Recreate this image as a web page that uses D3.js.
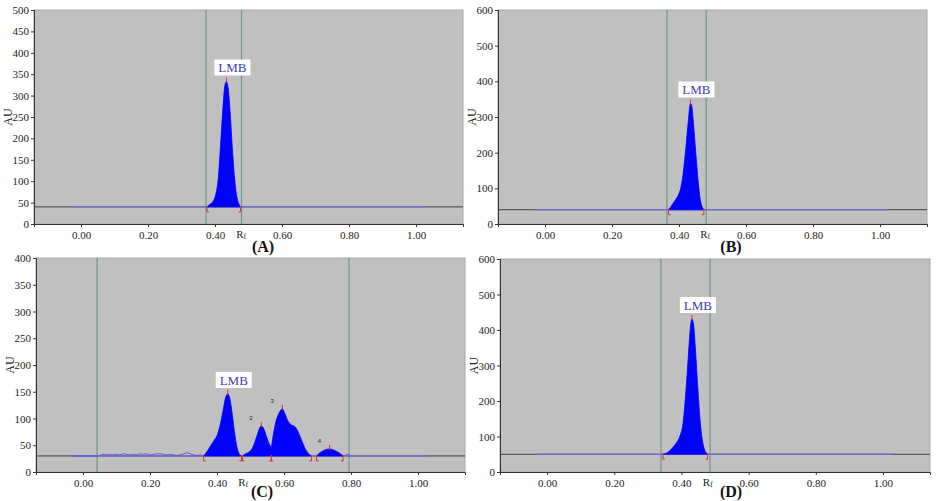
<!DOCTYPE html>
<html>
<head>
<meta charset="utf-8">
<script src="https://cdn.jsdelivr.net/npm/d3@7"></script>
<style>
  body { margin: 0; background: #fff; }
  svg { display: block; }
  .tick text { font-family: "Liberation Serif", serif; font-size: 11px; fill: #222; }
  .domain, .tick line { stroke: #333; }
</style>
</head>
<body>
<svg id="chart" width="936" height="501"></svg>
<script>
// ---- data (Rf, AU) ----
const xTicks = [0, 0.2, 0.4, 0.6, 0.8, 1.0];

const yMaxA = 500, yStepA = 50, baseA = 40, trackA = [0.373, 0.479];
const peakA = [[0.376,40],[0.385,46],[0.395,54],[0.403,72],[0.410,110],[0.416,180],[0.423,265],
  [0.429,322],[0.434,333],[0.439,318],[0.445,262],[0.451,185],[0.458,110],[0.465,64],[0.471,47],[0.476,40]];
const marksA = [[0.376, 0.434, 0.476]];

const yMaxB = 600, yStepB = 100, baseB = 40, trackB = [0.364, 0.481];
const peakB = [[0.369,40],[0.378,52],[0.388,66],[0.398,82],[0.405,100],[0.412,140],[0.420,210],
  [0.428,292],[0.434,338],[0.438,330],[0.443,282],[0.450,200],[0.457,120],[0.464,65],[0.470,46],[0.474,40]];
const marksB = [[0.369, 0.434, 0.474]];

const yMaxC = 400, yStepC = 50, baseC = 30, trackC = [0.042, 0.794];
const noiseC = [[-0.03,30],[0.04,30],[0.05,31],[0.06,33],[0.07,32],[0.08,33],[0.09,32],[0.10,33],[0.11,32],
  [0.12,34],[0.13,33],[0.14,32],[0.15,33],[0.16,32],[0.17,34],[0.18,33],[0.19,34],[0.20,32],[0.21,33],
  [0.22,34],[0.23,34],[0.24,33],[0.25,32],[0.26,33],[0.27,32],[0.28,31],[0.29,32],[0.30,34],[0.31,36],
  [0.32,34],[0.33,32],[0.34,31],[0.35,32],[0.36,30]];
const peakC1 = [[0.360,30],[0.370,38],[0.380,48],[0.390,58],[0.400,68],[0.410,90],[0.418,115],[0.426,140],
  [0.432,146],[0.438,138],[0.445,110],[0.452,75],[0.460,45],[0.467,33],[0.473,30]];
const peakC2 = [[0.476,30],[0.485,34],[0.495,37],[0.505,44],[0.515,60],[0.523,75],[0.532,86],[0.540,80],
  [0.548,65],[0.556,52],[0.562,45]];
const peakC3 = [[0.562,45],[0.568,70],[0.576,95],[0.585,110],[0.595,118],[0.603,108],[0.612,95],[0.622,88],
  [0.632,85],[0.642,75],[0.652,60],[0.662,45],[0.672,35],[0.682,30]];
const peakC4 = [[0.697,30],[0.705,35],[0.715,39],[0.725,42],[0.736,43],[0.748,41],[0.758,38],[0.768,34],[0.776,30]];
const tailC = [[0.776,30],[0.785,32],[0.790,33],[0.796,31],[0.80,30]];
const marksC = [[0.360, 0.432, 0.473], [0.476, 0.532, 0.562], [0.562, 0.595, 0.682], [0.697, 0.736, 0.776]];
const peakNamesC = ["", "2", "3", "4"];

const yMaxD = 600, yStepD = 100, baseD = 50, trackD = [0.339, 0.485];
const peakD = [[0.345,50],[0.355,53],[0.365,60],[0.375,70],[0.385,82],[0.395,100],[0.405,140],[0.413,225],
  [0.420,320],[0.426,400],[0.431,431],[0.436,415],[0.442,340],[0.449,232],[0.456,140],[0.463,85],[0.470,60],[0.478,50]];
const marksD = [[0.345, 0.431, 0.478]];

// ---- layout ----
const panels = [
  {tag: "(A)", left: 34, top: 10, w: 429, h: 214, yMax: yMaxA, step: yStepA, base: baseA, track: trackA,
   peaks: [peakA], marks: marksA, names: [""], noise: null, tagX: 229, tagY: 28},
  {tag: "(B)", left: 498, top: 10, w: 429, h: 214, yMax: yMaxB, step: yStepB, base: baseB, track: trackB,
   peaks: [peakB], marks: marksB, names: [""], noise: null, tagX: 233, tagY: 28},
  {tag: "(C)", left: 36, top: 258, w: 429, h: 214, yMax: yMaxC, step: yStepC, base: baseC, track: trackC,
   peaks: [peakC1, peakC2, peakC3, peakC4], marks: marksC, names: peakNamesC, noise: [noiseC, tailC],
   tagX: 226, tagY: 25},
  {tag: "(D)", left: 500, top: 259, w: 430, h: 213, yMax: yMaxD, step: yStepD, base: baseD, track: trackD,
   peaks: [peakD], marks: marksD, names: [""], noise: null, tagX: 231, tagY: 25}
];

const svg = d3.select("#chart");

panels.forEach(p => {
  const g = svg.append("g").attr("transform", `translate(${p.left},${p.top})`);
  const x = d3.scaleLinear().domain([-0.1403, 1.140]).range([0, p.w]);
  const y = d3.scaleLinear().domain([0, p.yMax]).range([p.h, 0]);

  g.append("rect").attr("width", p.w).attr("height", p.h)
    .attr("fill", "#c0c0c0").attr("stroke", "#a9a9a9");

  // track lines
  g.selectAll(".track").data(p.track).enter().append("line")
    .attr("x1", d => x(d)).attr("x2", d => x(d))
    .attr("y1", 0).attr("y2", p.h)
    .attr("stroke", "#6f9393").attr("stroke-width", 1.2);

  // dark baseline across whole plot, blue baseline over scan range
  g.append("line").attr("x1", 0).attr("x2", p.w)
    .attr("y1", y(p.base)).attr("y2", y(p.base))
    .attr("stroke", "#404040").attr("stroke-width", 1);
  g.append("line").attr("x1", x(-0.03)).attr("x2", x(1.025))
    .attr("y1", y(p.base)).attr("y2", y(p.base))
    .attr("stroke", "#6f6ff4").attr("stroke-width", 1);

  if (p.noise) {
    const ln = d3.line().x(d => x(d[0])).y(d => y(d[1])).curve(d3.curveMonotoneX);
    p.noise.forEach(n => {
      g.append("path").attr("d", ln(n)).attr("fill", "none")
        .attr("stroke", "#5a5af0").attr("stroke-width", 1);
    });
  }

  const area = d3.area().x(d => x(d[0])).y0(y(p.base)).y1(d => y(d[1])).curve(d3.curveMonotoneX);
  p.peaks.forEach(pk => {
    g.append("path").attr("d", area(pk)).attr("fill", "#0000ff")
      .attr("stroke", "#0000ff").attr("stroke-width", 0.8);
  });

  // red integration marks
  p.marks.forEach((m, i) => {
    const pk = p.peaks[i];
    const top = d3.max(pk, d => d[1]);
    const by = y(p.base);
    g.append("path").attr("d", `M${x(m[0]) + 2},${by + 5}H${x(m[0])}V${by - 1}`)
      .attr("fill", "none").attr("stroke", "#e03030").attr("stroke-width", 1);
    g.append("path").attr("d", `M${x(m[2]) - 2},${by + 5}H${x(m[2])}V${by - 1}`)
      .attr("fill", "none").attr("stroke", "#e03030").attr("stroke-width", 1);
    g.append("line").attr("x1", x(m[1])).attr("x2", x(m[1]))
      .attr("y1", y(top) - 4).attr("y2", y(top) + 1)
      .attr("stroke", "#e03030").attr("stroke-width", 1);

    if (p.names[i]) {
      g.append("text").attr("x", x(m[1]) - 12).attr("y", y(top) - 6)
        .attr("font-family", "Liberation Sans, sans-serif").attr("font-size", 6)
        .attr("fill", "#222").text(p.names[i]);
    }
    if (i === 0) {
      const cx = x(m[1]) + 6, by2 = y(top) - 6;
      g.append("rect").attr("x", cx - 18).attr("y", by2 - 16).attr("width", 36).attr("height", 16)
        .attr("fill", "#fff");
      g.append("text").attr("x", cx).attr("y", by2 - 3).attr("text-anchor", "middle")
        .attr("font-family", "Liberation Serif, serif").attr("font-size", 13)
        .attr("fill", "#3b3bc0").text("LMB");
    }
  });

  // axes
  g.append("g").attr("transform", `translate(0,${p.h})`)
    .call(d3.axisBottom(x).tickValues(xTicks).tickFormat(d3.format(".2f")).tickSize(3).tickPadding(4));
  g.append("g")
    .call(d3.axisLeft(y).tickValues(d3.range(0, p.yMax + 1, p.step)).tickSize(3).tickPadding(2));

  g.append("text").attr("transform", `translate(-22,${p.h / 2}) rotate(-90)`)
    .attr("text-anchor", "middle").attr("font-family", "Liberation Serif, serif")
    .attr("font-size", 12).attr("fill", "#222").text("AU");

  const rf = g.append("text").attr("x", x(0.478)).attr("y", p.h + 14)
    .attr("text-anchor", "middle").attr("font-family", "Liberation Serif, serif")
    .attr("font-size", 11).attr("fill", "#222");
  rf.append("tspan").text("R");
  rf.append("tspan").attr("font-size", 8).attr("dy", 1).text("f");

  g.append("text").attr("x", p.tagX).attr("y", p.h + p.tagY).attr("text-anchor", "middle")
    .attr("font-family", "Liberation Serif, serif").attr("font-size", 16)
    .attr("font-weight", "bold").attr("fill", "#111").text(p.tag);
});
</script>
</body>
</html>
